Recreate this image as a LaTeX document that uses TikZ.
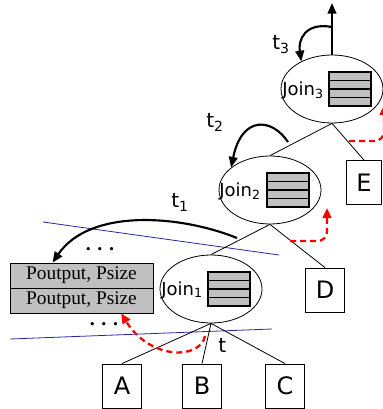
\documentclass[tikz,border=0pt]{standalone}
\usepackage{fontspec}
\setmainfont{Liberation Serif}
\setsansfont{DejaVu Sans}
\usetikzlibrary{arrows.meta,shapes.geometric}
\definecolor{slotgray}{RGB}{192,192,192}
\definecolor{cutblue}{RGB}{40,40,160}

\begin{document}
\begin{tikzpicture}[x=0.75pt,y=-0.75pt,every node/.style={font=\sffamily},
joinnode/.style={draw,ellipse,minimum width=76.5pt,minimum height=51pt,inner sep=0pt,line width=0.6pt},
slot/.style={draw,fill=slotgray,minimum width=31.5pt,minimum height=6.375pt,inner sep=0pt,line width=0.9pt},
jlabel/.style={anchor=base west,inner sep=0pt,font=\sffamily\fontsize{13.5}{15}\selectfont},
rel/.style={draw,minimum width=29.25pt,minimum height=33pt,inner sep=0pt,line width=0.6pt,font=\sffamily\fontsize{18}{20}\selectfont},
pout/.style={draw,fill=slotgray,minimum width=107.25pt,minimum height=18.75pt,inner sep=0pt,line width=0.6pt,font=\rmfamily\fontsize{14.5}{16}\selectfont},
tlabel/.style={anchor=base west,inner sep=0pt,font=\sffamily\fontsize{15}{17}\selectfont},
dots/.style={inner sep=0pt,font=\rmfamily\bfseries\fontsize{15}{17}\selectfont},
flow/.style={line width=1.6pt,-{Triangle[length=8pt,width=6.5pt]}},
back/.style={red,line width=1.7pt,dash pattern=on 4.5pt off 3pt,-{Triangle[length=7.5pt,width=6.5pt]}},
cut/.style={draw=cutblue,line width=0.6pt}]
\useasboundingbox (0,0) rectangle (382,409);
\coordinate (b1) at (43,222);\coordinate (b2) at (279,255);\coordinate (b3) at (10,339);\coordinate (b4) at (272,329);
\draw[cut] (b1)--(b2);\draw[cut] (b3)--(b4);
\node[joinnode] (j3) at (332,89){};\node[joinnode] (j2) at (270,190){};\node[joinnode] (j1) at (211,289){};
\node[jlabel] (l3) at (282,96){Join\textsubscript{3}};\node[jlabel] (l2) at (219,197){Join\textsubscript{2}};\node[jlabel] (l1) at (161,295){Join\textsubscript{1}};
\foreach \j/\x/\y in {3/350/89,2/288/190,1/229/289}
  \foreach \k in {0,1,2,3}
    \node[slot] (s\j\k) at (\x,\y-12.75+\k*8.5){};
\node[rel] (A) at (122,386){A};\node[rel] (B) at (202,386){B};\node[rel] (C) at (285,386){C};\node[rel] (D) at (325,290){D};\node[rel,minimum width=26.25pt] (E) at (364,182.5){E};
\node[pout] (p1) at (81.5,275.5){Poutput, Psize};\node[pout] (p2) at (81.5,300.5){Poutput, Psize};
\node[dots] (d1) at (100,249){. . .};\node[dots] (d2) at (104,324){. . .};
\draw[line width=0.6pt] (j3.south)--(j2.north) (j3.south)--(E.north) (j2.south)--(j1.north) (j2.south)--(D.north) (j1.south)--(A.north) (j1.south)--(B.north) (j1.south)--(C.north);
\coordinate (top) at (332,3);\draw[flow] (j3.north)--(top);
\coordinate (c3) at (332,27);\draw[flow] (c3) .. controls (305,22) and (298,40) .. (j3.138);
\coordinate (c2) at (288,142);\draw[flow] (c2) .. controls (272,118) and (242,115) .. (j2.150);
\coordinate (c1) at (237,238);\draw[flow] (c1) .. controls (180,215) and (90,208) .. (p1.156);
\coordinate (r1) at (205,336);\draw[back] (r1) .. controls (200,360) and (150,360) .. (p2.-18);
\coordinate (r2) at (290,241);\coordinate (h2) at (327,208);\draw[back,rounded corners=7pt] (r2)-|(h2);
\coordinate (r3) at (349,141);\coordinate (h3) at (384,105);\draw[back,rounded corners=7pt] (r3)-|(h3);
\node[tlabel] (t3) at (272,50){t\textsubscript{3}};\node[tlabel] (t2) at (206,128){t\textsubscript{2}};\node[tlabel] (t1) at (171,208){t\textsubscript{1}};\node[tlabel] (t0) at (218,352){t};
\end{tikzpicture}
\end{document}
